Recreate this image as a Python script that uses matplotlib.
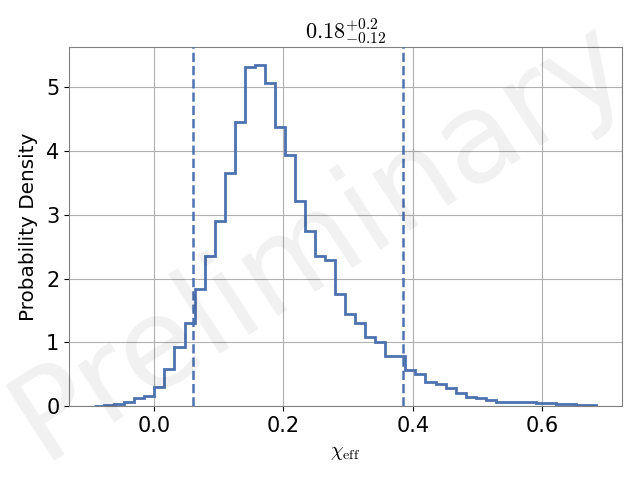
import numpy as np
import matplotlib
matplotlib.use("Agg")
import matplotlib.pyplot as plt

plt.rcParams.update({
    "mathtext.fontset": "cm",
    "font.family": "DejaVu Sans",
})

# ---- Data ----
bin_lo = -0.0923
bin_hi = 0.683
density = [
    0.008, 0.012, 0.026, 0.058, 0.12, 0.16, 0.30, 0.58, 0.92, 1.30,
    1.83, 2.35, 2.91, 3.66, 4.46, 5.32, 5.35, 5.07, 4.38, 3.93,
    3.22, 2.75, 2.36, 2.29, 1.75, 1.44, 1.30, 1.09, 1.01, 0.79,
    0.79, 0.57, 0.51, 0.38, 0.34, 0.29, 0.21, 0.15, 0.12, 0.094,
    0.068, 0.058, 0.058, 0.058, 0.055, 0.042, 0.040, 0.026, 0.016, 0.012,
]
lower_bound = 0.06
upper_bound = 0.385
title_text = r"$0.18^{+0.2}_{-0.12}$"
color = "#4c72b0"

edges = np.linspace(bin_lo, bin_hi, len(density) + 1)

fig = plt.figure(figsize=(6.4, 4.8), dpi=100)
ax = fig.add_axes([0.108, 0.154, 0.864, 0.748])

ax.stairs(density, edges, color=color, lw=2, zorder=3)
ax.axvline(lower_bound, color=color, ls="--", lw=1.8, zorder=3)
ax.axvline(upper_bound, color=color, ls="--", lw=1.8, zorder=3)

ax.set_xlim(-0.131, 0.723)
ax.set_ylim(0, 5.63)
ax.set_xticks([0.0, 0.2, 0.4, 0.6])
ax.set_yticks([0, 1, 2, 3, 4, 5])
ax.tick_params(labelsize=15)
ax.grid(True, color="#b0b0b0", lw=0.8)
ax.set_axisbelow(True)
for sp in ax.spines.values():
    sp.set_color("#808080")

ax.set_xlabel(r"$\chi_{\rm eff}$", fontsize=14.5, labelpad=5)
ax.set_ylabel("Probability Density", fontsize=14.4, labelpad=6)
ax.set_title(title_text, fontsize=16, pad=5)

# watermark
fig.text(0.5, 0.5, "Preliminary", fontsize=90, color="black", alpha=0.06,
         rotation=33, ha="center", va="center", zorder=0)

fig.savefig("out.png", dpi=100)
